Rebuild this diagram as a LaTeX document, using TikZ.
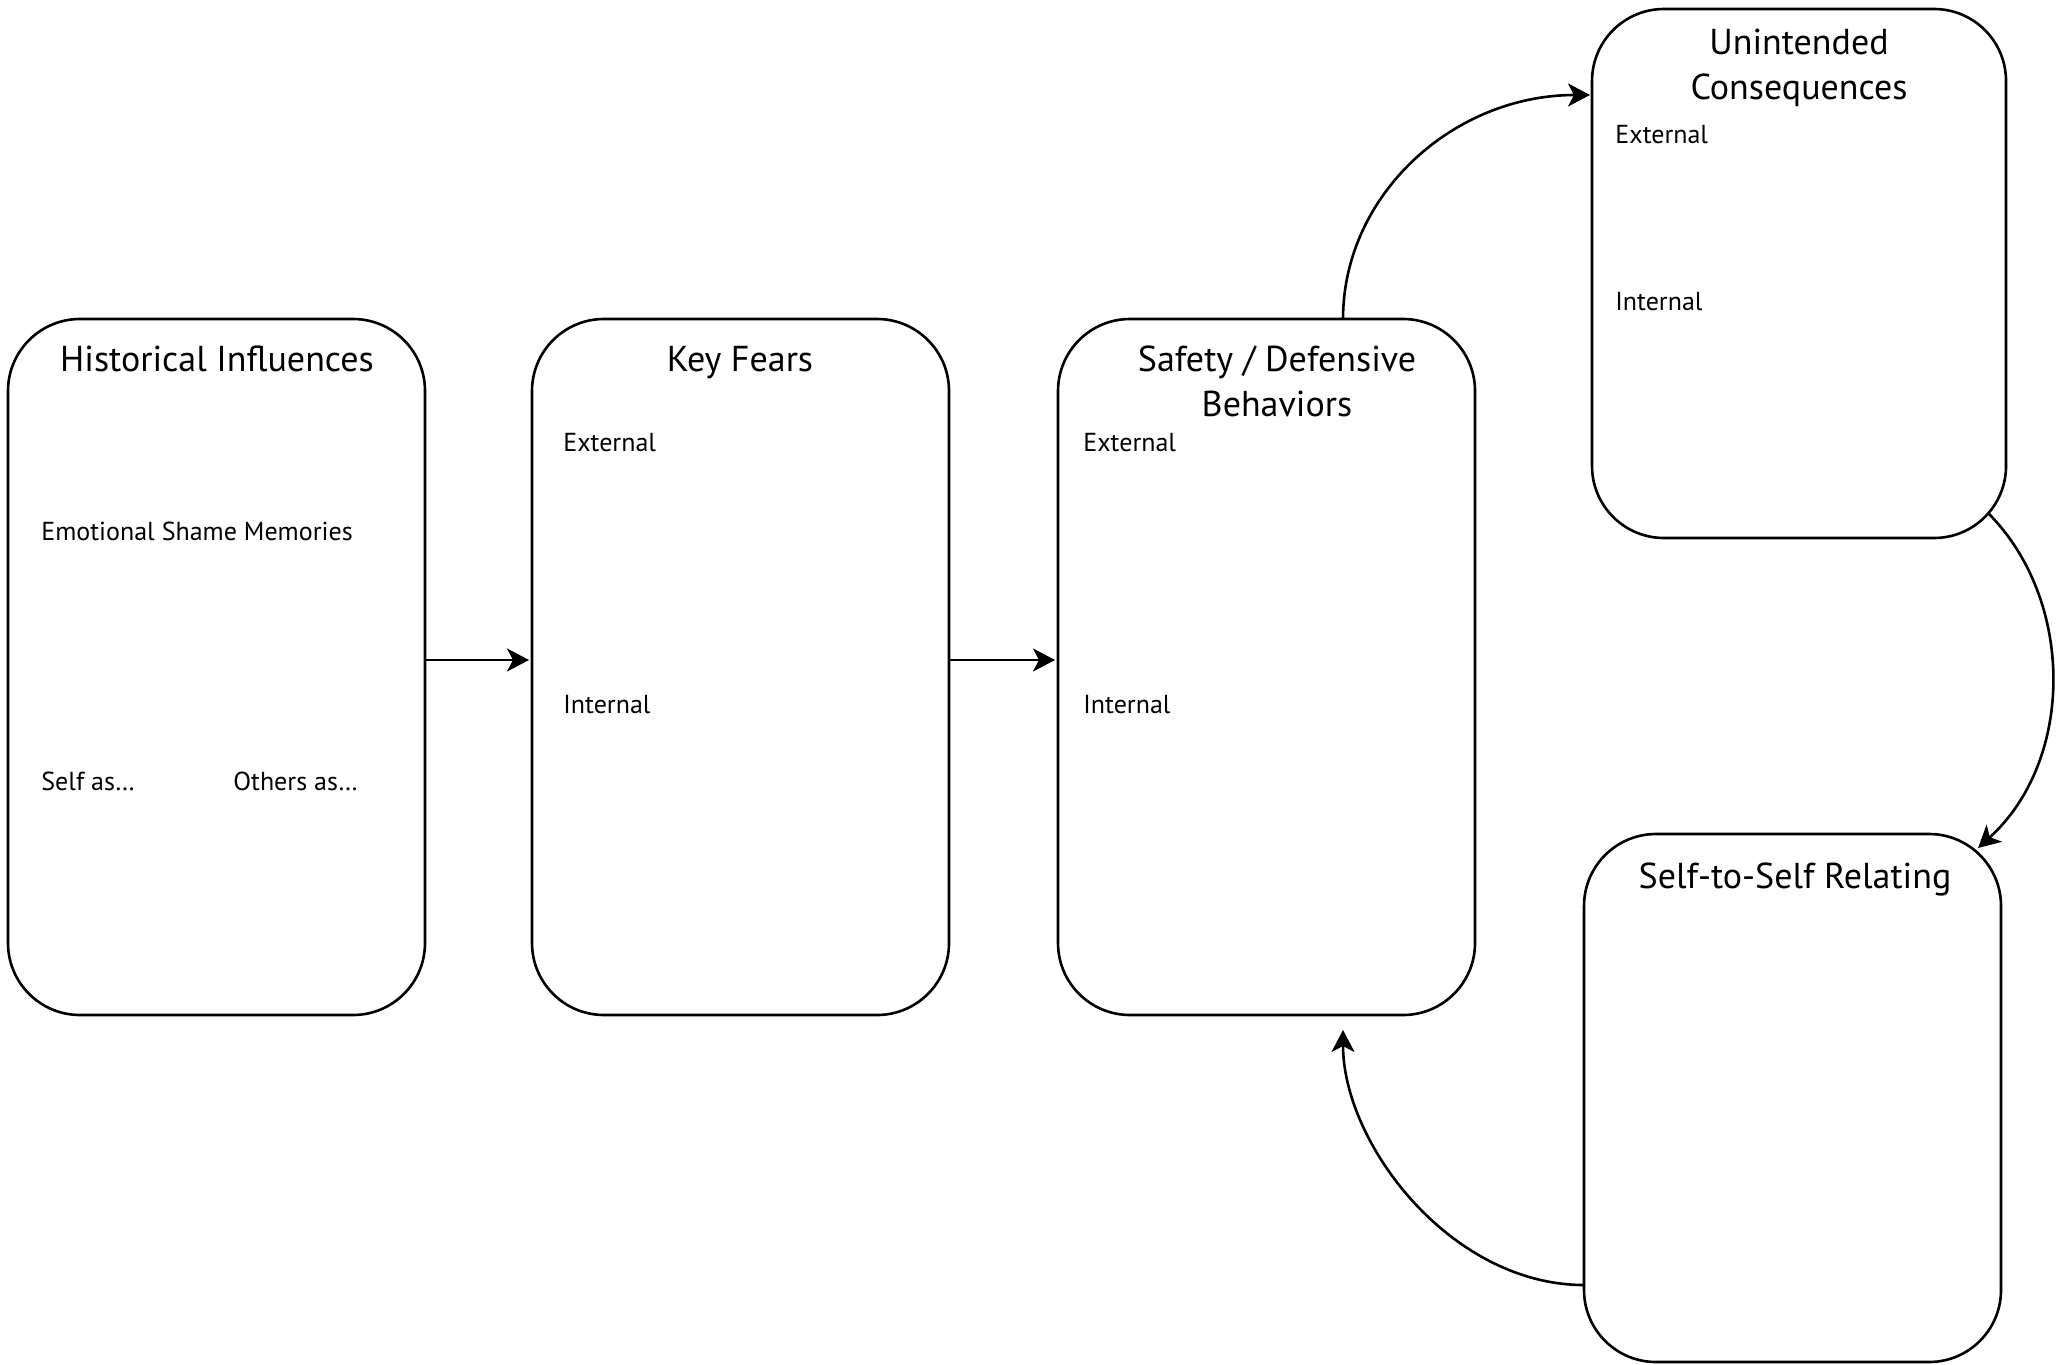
\documentclass[tikz,border=0pt]{standalone}
\usepackage{fontspec}
\setmainfont{PT Sans}
\usetikzlibrary{arrows.meta,calc}
\begin{document}
\begin{tikzpicture}[x=0.5pt,y=-0.5pt,
 box/.style={draw, line width=1.3pt, rounded corners=36pt, inner sep=0pt, outer sep=0pt},
 ttl/.style={font=\fontsize{18}{22.5}\selectfont, align=center, anchor=base, inner sep=0pt},
 lbl/.style={font=\fontsize{13}{15}\selectfont, anchor=base west, inner sep=0pt},
 arr/.style={line width=1.3pt, -{Stealth[length=11pt,width=11.5pt,inset=3pt]}}]
\useasboundingbox (0,0) rectangle (2064,1364);

% boxes
\node[box, minimum width=208.5pt, minimum height=348pt] (hi) at (216.5,667) {};
\node[box, minimum width=208.5pt, minimum height=348pt] (kf) at (740.5,667) {};
\node[box, minimum width=208.5pt, minimum height=348pt] (sd) at (1266.5,667) {};
\node[box, minimum width=207pt, minimum height=264.5pt] (uc) at (1799,273.5) {};
\node[box, minimum width=208.5pt, minimum height=264pt] (ss) at (1792.5,1098) {};

% titles
\node[ttl] (hit) at (217,371) {Historical Influences};
\node[ttl] (kft) at (740,371) {Key Fears};
\node[ttl] (sdt) at (1277,416) {Safety / Defensive\\Behaviors};
\node[ttl] (uct) at (1799,100) {Unintended\\Consequences};
\node[ttl] (sst) at (1795,888) {Self-to-Self Relating};

% labels
\node[lbl] (hi1) at (41,540) {Emotional Shame Memories};
\node[lbl] (hi2) at (41,790) {Self as…};
\node[lbl] (hi3) at (233,790) {Others as…};
\node[lbl] (kf1) at (563,451) {External};
\node[lbl] (kf2) at (563,713) {Internal};
\node[lbl] (sd1) at (1083,451) {External};
\node[lbl] (sd2) at (1083,713) {Internal};
\node[lbl] (uc1) at (1615,144) {External};
\node[lbl] (uc2) at (1615,310) {Internal};

% connectors
\draw[arr] ($(hi.east)+(0,-7)$) -- ($(kf.west)+(-3,-7)$);
\draw[arr] ($(kf.east)+(0,-7)$) -- ($(sd.west)+(-3,-7)$);
\draw[arr] ($(sd.north)+(76.5,0)$) .. controls +(0,-124) and +(-137,0) .. ($(uc.north west)+(-2,86)$);
\draw[arr] ($(uc.south east)+(-18,-25)$) .. controls +(87,87) and +(97,-88) .. ($(ss.north east)+(-23,14)$);
\draw[arr] ($(ss.west)+(0,187)$) .. controls +(-133,0) and +(0,114) .. ($(sd.south)+(76.5,15)$);
\end{tikzpicture}
\end{document}
